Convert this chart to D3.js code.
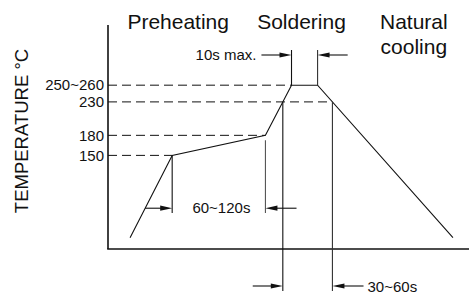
<!DOCTYPE html>
<html lang="en">
<head>
<meta charset="UTF-8">
<title>Reflow profile</title>
<script src="https://d3js.org/d3.v7.min.js"></script>
<style>
  html, body { margin: 0; padding: 0; background: #fff; }
  svg { display: block; font-family: "Liberation Sans", Arial, sans-serif; }
</style>
</head>
<body>
<div id="chart"></div>
<script>
// profile (time in s, temperature in °C) - schematic
const profileTime = [22, 64, 157, 183, 209, 344];
const profileTemp = [27, 150, 180, 255, 255, 27];

// temperature guide lines
const tempTicks = [150, 180, 230, 255];
const tempTickLabels = ["150", "180", "230", "250~260"];

// phase titles
const phaseNames = [["Preheating"], ["Soldering"], ["Natural", "cooling"]];
const phaseTimes = [70, 193, 305];

// duration labels
const durationLabels = ["10s max.", "60~120s", "30~60s"];

const W = 469, H = 294;
const x = d3.scaleLinear().domain([0, 360]).range([108, 469]);
const y = d3.scaleLinear().domain([10, 345]).range([249, 25]);

const svg = d3.select("#chart").append("svg")
  .attr("width", W).attr("height", H);

const ink = "#111";

// axes
svg.append("line")
  .attr("x1", x(0)).attr("x2", x(0))
  .attr("y1", y(345)).attr("y2", y(10))
  .attr("stroke", ink).attr("stroke-width", 1.6);
svg.append("line")
  .attr("x1", x(0) - 0.8).attr("x2", W)
  .attr("y1", y(10)).attr("y2", y(10))
  .attr("stroke", ink).attr("stroke-width", 1.6);

// find time where profile crosses a temperature (first on rise / on fall)
function crossTime(temp, falling) {
  for (let i = 0; i < profileTime.length - 1; i++) {
    const a = profileTemp[i], b = profileTemp[i + 1];
    const ok = falling ? (a >= temp && b <= temp && a > b) : (a <= temp && b >= temp && b > a);
    if (ok) return profileTime[i] + (temp - a) / (b - a) * (profileTime[i + 1] - profileTime[i]);
  }
  return 0;
}

// dashed guides: end at the profile
const guideEnds = [profileTime[1], profileTime[2], crossTime(230, true), profileTime[3]];
svg.selectAll("line.guide")
  .data(tempTicks).enter().append("line")
  .attr("class", "guide")
  .attr("x1", x(0)).attr("x2", (d, i) => x(guideEnds[i]))
  .attr("y1", d => y(d)).attr("y2", d => y(d))
  .attr("stroke", ink).attr("stroke-width", 1)
  .attr("stroke-dasharray", "9,5");

svg.selectAll("text.tick")
  .data(tempTicks).enter().append("text")
  .attr("class", "tick")
  .attr("x", x(0) - 4).attr("y", d => y(d))
  .attr("dy", "0.35em")
  .attr("text-anchor", "end")
  .attr("font-size", 15)
  .attr("fill", ink)
  .text((d, i) => tempTickLabels[i]);

// profile line
const line = d3.line().x(d => x(d[0])).y(d => y(d[1]));
svg.append("path")
  .datum(profileTime.map((t, i) => [t, profileTemp[i]]))
  .attr("d", line)
  .attr("fill", "none").attr("stroke", ink).attr("stroke-width", 1.1);

// helpers
function vline(t, top, bottom, col) {
  svg.append("line")
    .attr("x1", x(t)).attr("x2", x(t))
    .attr("y1", top).attr("y2", bottom)
    .attr("stroke", col || ink).attr("stroke-width", 1.1);
}
function arrow(tFrom, tTo, py) {
  const x1 = x(tFrom), x2 = x(tTo), dir = x2 > x1 ? 1 : -1;
  svg.append("line")
    .attr("x1", x1).attr("x2", x2 - dir * 6)
    .attr("y1", py).attr("y2", py)
    .attr("stroke", ink).attr("stroke-width", 1.1);
  svg.append("path")
    .attr("d", `M${x2},${py}L${x2 - dir * 12},${py - 2.6}L${x2 - dir * 12},${py + 2.6}Z`)
    .attr("fill", ink);
}
function label(txt, t, py, anchor) {
  svg.append("text")
    .attr("x", x(t)).attr("y", py).attr("dy", "0.35em")
    .attr("text-anchor", anchor)
    .attr("font-size", 15).attr("fill", ink)
    .text(txt);
}

// preheating span
const tRiseMark = 37;
vline(profileTime[1], y(profileTemp[1]), y(64));
vline(profileTime[2], y(profileTemp[2]) + 5, y(64), "#555");
arrow(tRiseMark, profileTime[1], y(71));
arrow(profileTime[2] + 31, profileTime[2], y(71));
label(durationLabels[1], profileTime[2] - 15, y(71), "end");

// peak span
const arrowTop = 55;
vline(profileTime[3], 50, y(255));
vline(profileTime[4], 50, y(255), "#333");
arrow(profileTime[3] - 30, profileTime[3], arrowTop);
arrow(profileTime[4] + 30, profileTime[4], arrowTop);
label(durationLabels[0], profileTime[3] - 35, arrowTop, "end");

// above 230 span
const tUp = crossTime(230, false), tDown = crossTime(230, true);
vline(tUp, y(230), 291);
vline(tDown, y(230), 291, "#333");
arrow(tUp - 30, tUp, 286);
arrow(tDown + 31, tDown, 286);
label(durationLabels[2], tDown + 35, 287, "start");

// phase titles
phaseNames.forEach((lines, i) => {
  lines.forEach((s, j) => {
    svg.append("text")
      .attr("x", x(phaseTimes[i])).attr("y", 29 + j * 25)
      .attr("text-anchor", "middle")
      .attr("font-size", 21).attr("fill", ink)
      .text(s);
  });
});

// y label
svg.append("text")
  .attr("transform", `translate(28,131) rotate(-90)`)
  .attr("text-anchor", "middle")
  .attr("font-size", 18.5).attr("fill", ink)
  .text("TEMPERATURE °C");
</script>
</body>
</html>
